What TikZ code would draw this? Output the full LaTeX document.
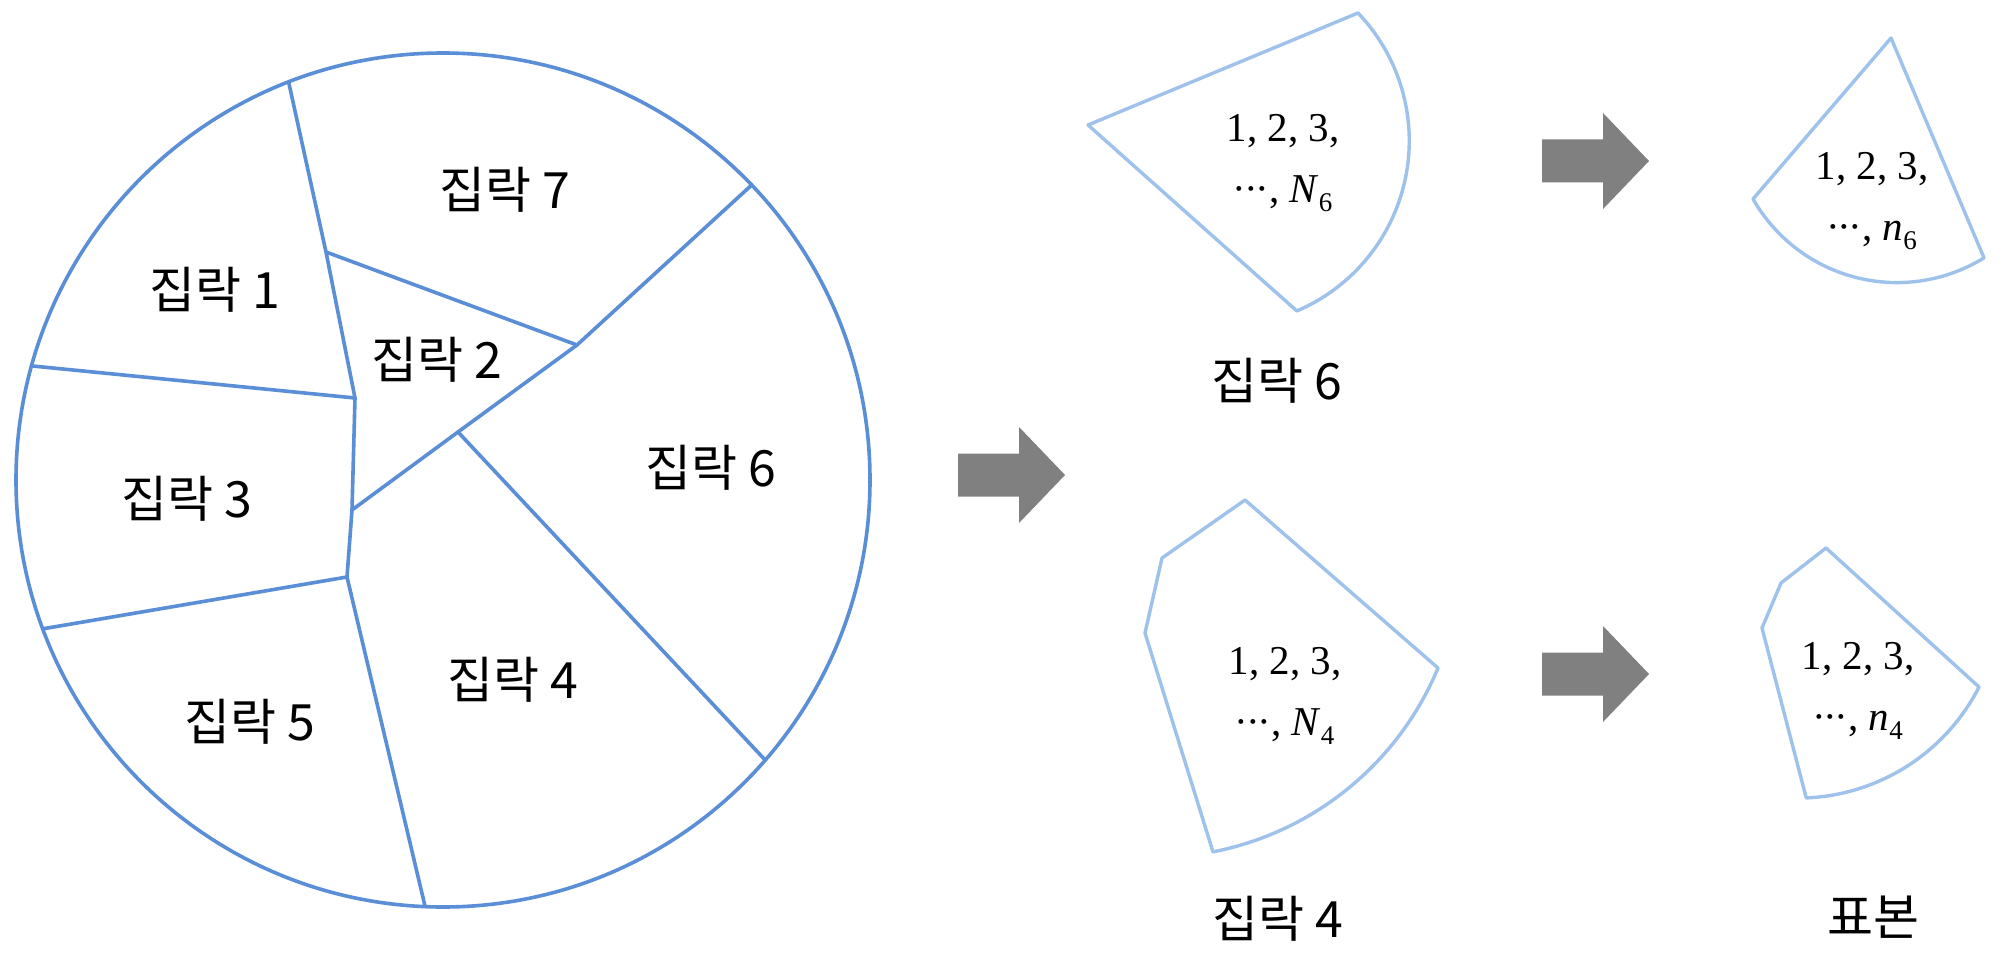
\documentclass[tikz,border=0pt]{standalone}
\usepackage{fontspec}
\newfontfamily\kr{Noto Sans CJK KR}
\newfontfamily\numfont{Liberation Serif}
\usetikzlibrary{calc}
\definecolor{circblue}{RGB}{90,142,214}
\definecolor{shapeblue}{RGB}{158,194,235}
\definecolor{arrowgray}{RGB}{128,128,128}
\newcommand\lowsub[1]{\raisebox{-0.2em}{\fontsize{27}{27}\selectfont #1}}
\newcommand\mydots{\kern-0.02em ·\kern-0.06em ·\kern-0.06em ·}
\begin{document}
\begin{tikzpicture}[x=1pt,y=-1pt,
  klabel/.style={font=\kr\fontsize{50}{60}\selectfont, inner sep=0pt},
  numlabel/.style={font=\numfont\fontsize{41}{61}\selectfont, align=center, inner sep=0pt},
  part/.style={draw=circblue, line width=3.6pt, line join=round, line cap=round},
  sample/.style={draw=shapeblue, line width=3.4pt, line join=round},
  fatarrow/.pic={\fill[arrowgray] (-107,-21.5) -- (-46,-21.5) -- (-46,-48) -- (0,0) -- (-46,48) -- (-46,21.5) -- (-107,21.5) -- cycle;}
]
\useasboundingbox (0,0) rectangle (2004,960);
\fill[white] (0,0) rectangle (2004,960);

% ---- population circle ----
\coordinate (O) at (443,480);
\coordinate (P17) at ($(O)+(-111.2:427)$);
\coordinate (P13) at ($(O)+(-164.5:427)$);
\coordinate (P76) at ($(O)+(-43.7:427)$);
\coordinate (P64) at ($(O)+(41.0:427)$);
\coordinate (P54) at ($(O)+(92.4:427)$);
\coordinate (P35) at ($(O)+(159.6:427)$);
\coordinate (A) at (326,252);
\coordinate (B) at (355,398);
\coordinate (C) at (577,345);
\coordinate (D) at (458,432);
\coordinate (F) at (352,510);
\coordinate (E) at (347,577);

\draw[part] (O) circle[radius=427];
\draw[part] (P17) -- (A) -- (B) -- (F) -- (E) -- (P54);
\draw[part] (P13) -- (B);
\draw[part] (A) -- (C);
\draw[part] (P76) -- (C) -- (D) -- (F);
\draw[part] (D) -- (P64);
\draw[part] (P35) -- (E);

\node[klabel] (l1) at (215,290) {집락 1};
\node[klabel] (l2) at (437,360) {집락 2};
\node[klabel] (l7) at (505,190) {집락 7};
\node[klabel] (l6) at (711,468) {집락 6};
\node[klabel] (l3) at (187,499) {집락 3};
\node[klabel] (l5) at (250,722) {집락 5};
\node[klabel] (l4) at (513,680) {집락 4};

% ---- arrows ----
\pic at (1065,475) {fatarrow};
\pic at (1649,161) {fatarrow};
\pic at (1649,674) {fatarrow};

% ---- selected clusters ----
\draw[sample] (1088,125) -- (1358,13) arc[start angle=-43.7, end angle=66.9, radius=185] -- cycle;
\draw[sample] (1245,500) -- (1438,668) arc[start angle=22.6, end angle=78.9, radius=308] -- (1145,633) -- (1162,558) -- cycle;

% ---- samples ----
\draw[sample] (1891,38) -- (1753,199) arc[start angle=150.3, end angle=58.3, radius=165.7] -- cycle;
\draw[sample] (1826,548) -- (1979,687) arc[start angle=27.0, end angle=87.6, radius=203.5] -- (1762,628) -- (1781,583) -- cycle;

\node[numlabel] (t6) at (1283,163) {1, 2, 3,\\\mydots, \textit{N}\lowsub{6}};
\node[numlabel] (t4) at (1285,696) {1, 2, 3,\\\mydots, \textit{N}\lowsub{4}};
\node[numlabel] (s6) at (1872,201) {1, 2, 3,\\\mydots, \textit{n}\lowsub{6}};
\node[numlabel] (s4) at (1858,691) {1, 2, 3,\\\mydots, \textit{n}\lowsub{4}};

\node[klabel] (lab6) at (1277,381) {집락 6};
\node[klabel] (lab4) at (1278,919) {집락 4};
\node[klabel] (labS) at (1873,917) {표본};
\end{tikzpicture}
\end{document}
